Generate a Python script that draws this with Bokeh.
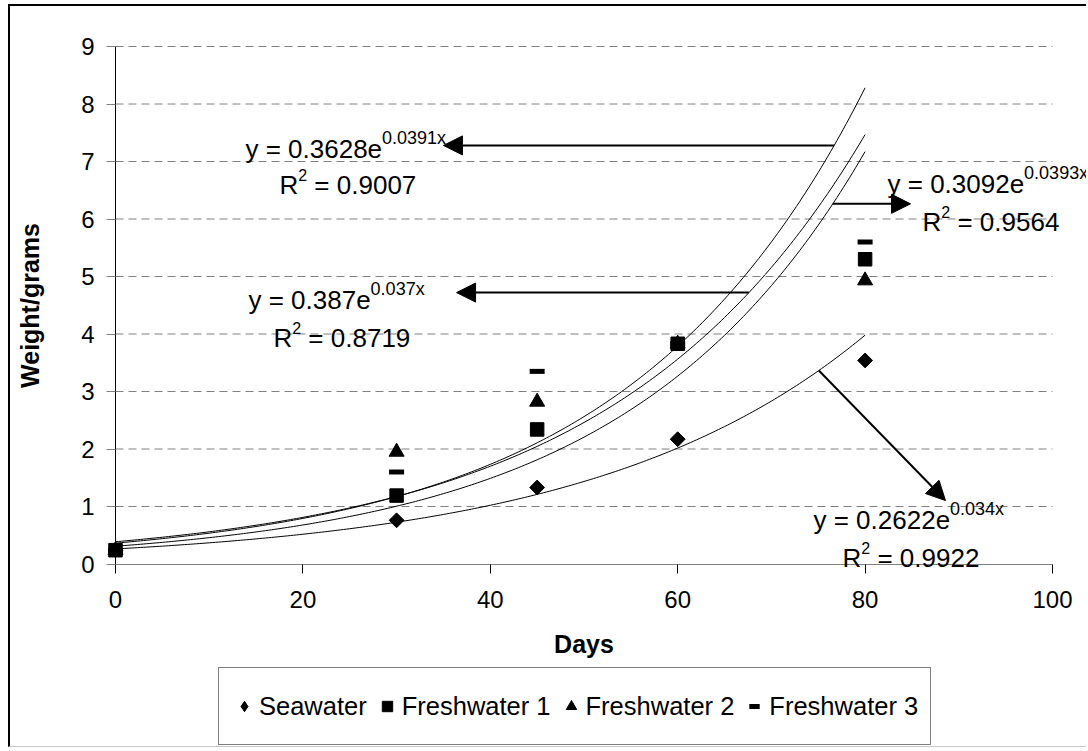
import numpy as np
from bokeh.plotting import figure
from bokeh.models import (Range1d, FixedTicker, Label, Arrow, NormalHead, Legend,
                          LegendItem)
from bokeh.embed import file_html
from bokeh.resources import INLINE

# ---------------- data ----------------
days = [0, 30, 45, 60, 80]
seawater = [0.24, 0.76, 1.33, 2.17, 3.54]
fresh1 = [0.24, 1.19, 2.34, 3.83, 5.30]
fresh2 = [0.24, 1.95, 2.82, 3.83, 4.93]
fresh3 = [0.24, 1.60, 3.35, 3.83, 5.60]
series_names = ["Seawater", "Freshwater 1", "Freshwater 2", "Freshwater 3"]

# exponential trendlines y = a * e^(b x), as printed on the chart
trend_a = [0.2622, 0.3092, 0.387, 0.3628]
trend_b = [0.034, 0.0393, 0.037, 0.0391]
trend_a_text = ["0.2622", "0.3092", "0.387", "0.3628"]
trend_b_text = ["0.034x", "0.0393x", "0.037x", "0.0391x"]
trend_r2_text = ["0.9922", "0.9564", "0.8719", "0.9007"]

x_ticks = [0, 20, 40, 60, 80, 100]
y_ticks = [0, 1, 2, 3, 4, 5, 6, 7, 8, 9]

# annotation placement (data units): equation start, R^2 start, arrow level / tip
eq_x = [74.49, 82.39, 14.19, 13.87]
eq_y = [0.757, 6.612, 4.583, 7.226]
r2_x = [77.59, 86.13, 16.86, 17.50]
r2_y = [0.096, 5.944, 3.939, 6.600]
arrow_y0 = [3.365, 6.264, 4.72, 7.28]
arrow_x1 = [88.58, 84.85, 36.4, 35.0]
arrow_y1 = [1.104, 6.264, 4.72, 7.28]

FONT = "Liberation Sans"

# ---------------- geometry (pixels) ----------------
W, H = 1078, 743          # canvas; the whole canvas is the plot frame
AX_L, AX_T = 105, 40      # where x=0 and y=top tick sit on the canvas
PX_X = 9.37               # pixels per day
PX_Y = 57.5               # pixels per gram
x_range = Range1d(x_ticks[0] - AX_L / PX_X, x_ticks[0] + (W - AX_L) / PX_X)
y_range = Range1d(y_ticks[-1] - (H - AX_T) / PX_Y, y_ticks[-1] + AX_T / PX_Y)

p = figure(width=W, height=H, x_range=x_range, y_range=y_range,
           output_backend="svg", toolbar_location=None,
           min_border=0, min_border_left=0, min_border_right=0,
           min_border_top=0, min_border_bottom=0,
           margin=(4, 0, 0, 8),
           styles={"border-left": "2px solid black", "border-top": "2px solid black",
                   "border-bottom": "1px solid #c8c8c8"})
p.outline_line_color = None
p.background_fill_color = "white"
p.border_fill_color = "white"

p.xgrid.visible = False
p.ygrid.visible = False

p.xaxis.ticker = FixedTicker(ticks=x_ticks)
p.yaxis.ticker = FixedTicker(ticks=y_ticks)
p.xaxis.bounds = (x_ticks[0], x_ticks[-1])
p.yaxis.bounds = (y_ticks[0], y_ticks[-1])
p.xaxis.fixed_location = y_ticks[0]
p.yaxis.fixed_location = x_ticks[0]
for ax in (p.xaxis[0], p.yaxis[0]):
    ax.major_tick_out = 9
    ax.major_tick_in = 0
    ax.minor_tick_line_color = None
    ax.major_label_text_font = FONT
    ax.major_label_text_font_size = "24px"
    ax.major_label_text_color = "black"
    ax.axis_label_text_font = FONT
    ax.axis_label_text_font_size = "25px"
    ax.axis_label_text_font_style = "bold"
    ax.axis_label_text_color = "black"
p.xaxis.axis_line_color = "#808080"
p.xaxis.major_tick_line_color = "black"
p.yaxis.axis_line_color = "black"
p.yaxis.major_tick_line_color = "#808080"
p.xaxis.major_label_standoff = 18
p.yaxis.major_label_standoff = 12
p.xaxis.axis_label = "Days"
p.yaxis.axis_label = "Weight/grams"
p.xaxis.axis_label_standoff = 18
p.yaxis.axis_label_standoff = 34

# horizontal dashed gridlines, spanning the x-axis bounds only
gy = y_ticks[1:]
p.segment(x0=[x_ticks[0]] * len(gy), x1=[x_ticks[-1]] * len(gy), y0=gy, y1=gy,
          line_color="#808080", line_dash="8 5", line_width=1)

# ---------------- trendlines ----------------
xs = np.linspace(days[0], days[-1], 241)
for a, b in zip(trend_a, trend_b):
    p.line(xs, a * np.exp(b * xs), line_color="black", line_width=1)

# ---------------- markers ----------------
# seawater: a diamond made of a 45-degree square; the narrower key diamond
# sits inside it and only serves as the legend swatch
r_sw = p.scatter(days, seawater, marker="square", angle=np.pi / 4, size=10.5, color="black")
r_sw_key = p.scatter(days, seawater, marker="diamond", size=13, color="black")
r_f1 = p.scatter(days, fresh1, marker="square", size=13.5, color="black")
r_f2 = p.scatter(days, fresh2, marker="triangle", size=15, color="black")
r_f3 = p.scatter(days, fresh3, marker="dash", size=15, line_width=5, color="black")

# ---------------- equation labels ----------------
CW = {' ': 278, '.': 278, '=': 584, 'y': 500, 'e': 556, 'x': 500, 'R': 722}
for d in "0123456789":
    CW[d] = 556


def tw(s, size):
    return sum(CW.get(c, 556) for c in s) * size / 1000.0


def rich(x, y, parts):
    off = 0.0
    for text, fs, rise in parts:
        body = text.lstrip(" ")
        off += tw(text[:len(text) - len(body)], fs)
        p.add_layout(Label(x=x + off / PX_X, y=y + rise / PX_Y, text=body,
                           text_font=FONT, text_font_size=f"{fs}px",
                           text_baseline="alphabetic", text_align="left",
                           text_color="black"))
        off += tw(body, fs)


for i in range(4):
    rich(eq_x[i], eq_y[i], [(f"y = {trend_a_text[i]}e", 26, 0), (trend_b_text[i], 18, 11)])
    rich(r2_x[i], r2_y[i], [("R", 26, 0), ("2", 16, 10), (f" = {trend_r2_text[i]}", 26, 0)])
    a, b = trend_a[i], trend_b[i]
    x0 = np.log(arrow_y0[i] / a) / b
    p.add_layout(Arrow(end=NormalHead(size=19, fill_color="black", line_color="black", line_width=1),
                       x_start=float(x0), y_start=arrow_y0[i],
                       x_end=arrow_x1[i], y_end=arrow_y1[i],
                       line_color="black", line_width=2))

# ---------------- legend ----------------
legend = Legend(items=[LegendItem(label=n, renderers=[r]) for n, r in
                       zip(series_names, [r_sw_key, r_f1, r_f2, r_f3])],
                orientation="horizontal", location=(208, 4),
                label_text_font=FONT, label_text_font_size="25.5px",
                label_text_color="black",
                glyph_width=26, glyph_height=52, label_height=52, label_standoff=2,
                spacing=7, padding=12, margin=0,
                border_line_color="black", border_line_width=1,
                background_fill_color="white", background_fill_alpha=1)
p.add_layout(legend, "center")

open("out.html", "w").write(file_html(p, INLINE))
